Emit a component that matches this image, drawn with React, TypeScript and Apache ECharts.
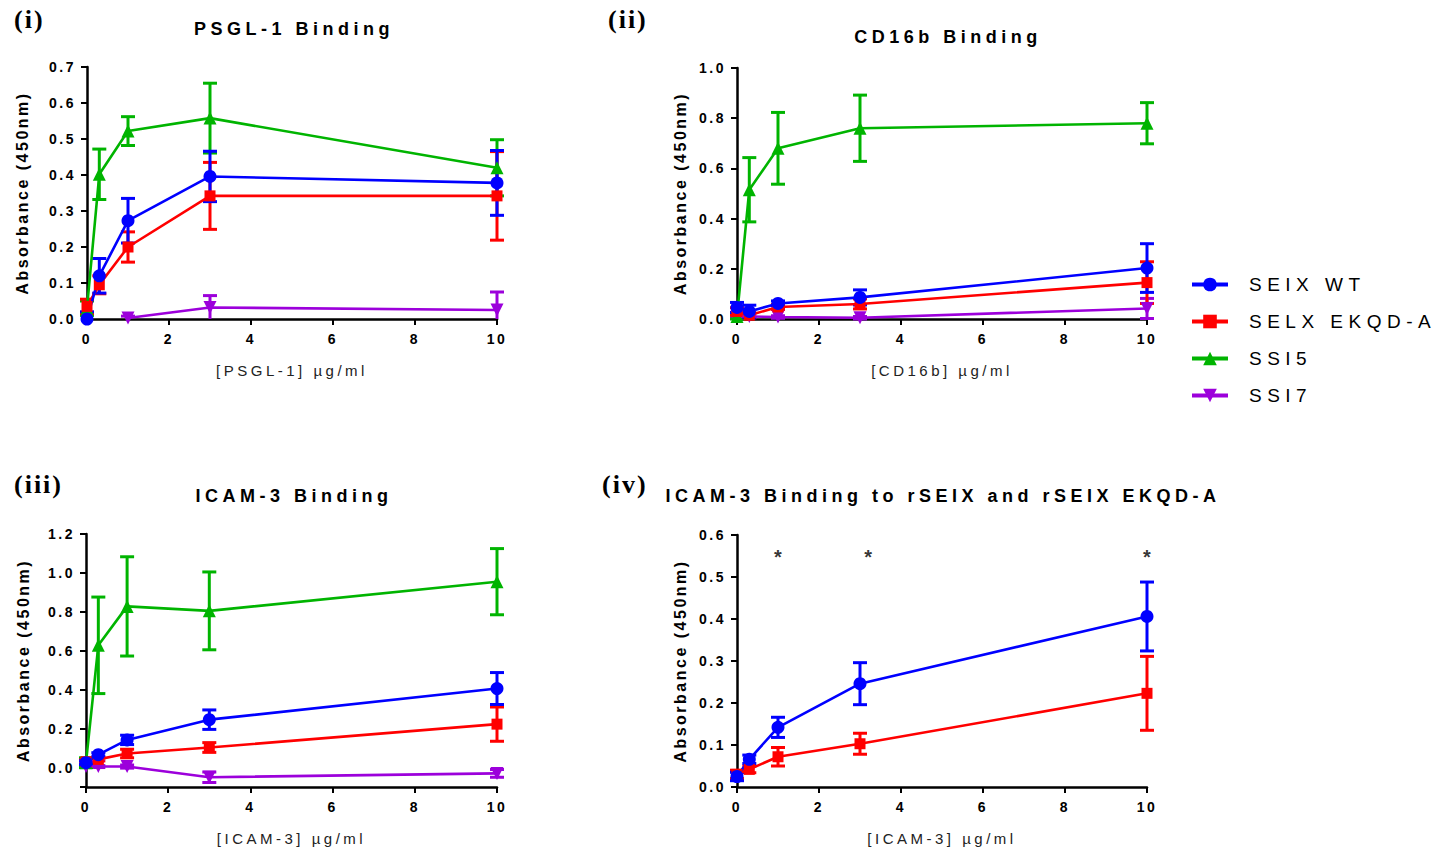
import React, { useEffect, useRef } from 'react';
import * as echarts from 'echarts';

// concentrations (µg/ml)
const conc = [0, 0.3, 1, 3, 10];
const seriesNames = ['SEIX WT', 'SELX EKQD-A', 'SSI5', 'SSI7'];

// (i) PSGL-1 binding
const psglSEIX = [0.0, 0.12, 0.273, 0.396, 0.378];
const psglSEIXErr = [0.02, 0.048, 0.062, 0.07, 0.09];
const psglSELX = [0.035, 0.095, 0.2, 0.342, 0.342];
const psglSELXErr = [0.02, 0.025, 0.042, 0.093, 0.123];
const psglSSI5 = [0.03, 0.402, 0.522, 0.558, 0.42];
const psglSSI5Err = [0.02, 0.07, 0.04, 0.097, 0.078];
const psglSSI7 = [null, null, 0.003, 0.032, 0.025];
const psglSSI7Err = [null, null, 0.005, 0.033, 0.05];

// (ii) CD16b binding
const cd16SEIX = [0.046, 0.03, 0.062, 0.086, 0.203];
const cd16SEIXErr = [0.02, 0.025, 0.01, 0.03, 0.097];
const cd16SELX = [0.03, 0.015, 0.048, 0.06, 0.145];
const cd16SELXErr = [0.015, 0.01, 0.01, 0.02, 0.083];
const cd16SSI5 = [0.01, 0.515, 0.68, 0.76, 0.78];
const cd16SSI5Err = [0.01, 0.128, 0.143, 0.132, 0.082];
const cd16SSI7 = [0.01, 0.01, 0.008, 0.005, 0.042];
const cd16SSI7Err = [0.005, 0.005, 0.005, 0.005, 0.04];

// (iii) ICAM-3 binding (also used in iv)
const icamSEIX = [0.025, 0.066, 0.142, 0.246, 0.406];
const icamSEIXErr = [0.01, 0.01, 0.024, 0.05, 0.082];
const icamSELX = [0.03, 0.042, 0.072, 0.103, 0.223];
const icamSELXErr = [0.01, 0.008, 0.022, 0.025, 0.088];
const icamSSI5 = [0.025, 0.628, 0.828, 0.805, 0.955];
const icamSSI5Err = [0.025, 0.248, 0.255, 0.2, 0.17];
const icamSSI7 = [0.005, 0.005, 0.005, -0.05, -0.03];
const icamSSI7Err = [0.005, 0.005, 0.008, 0.027, 0.02];

// significance markers in (iv)
const sigConc = [1, 3.2, 10];
const sigLevel = [0.547, 0.547, 0.547];

// tick values
const xTicks = [0, 2, 4, 6, 8, 10];
const yTicksIII = [0, 0.2, 0.4, 0.6, 0.8, 1.0, 1.2];
const yTickMarksIII = [-0.1, 0, 0.2, 0.4, 0.6, 0.8, 1.0, 1.2];

const panelTitles = ['PSGL-1 Binding', 'CD16b Binding', 'ICAM-3 Binding', 'ICAM-3 Binding to rSEIX and rSEIX EKQD-A'];
const panelLabels = ['(i)', '(ii)', '(iii)', '(iv)'];
const xNames = ['[PSGL-1] µg/ml', '[CD16b] µg/ml', '[ICAM-3] µg/ml', '[ICAM-3] µg/ml'];
const yName = 'Absorbance (450nm)';

const FONT = "'Liberation Sans', Arial, sans-serif";

const styles: Record<string, any> = {
  'SEIX WT': { color: '#0000ff', symbol: 'circle', size: 13 },
  'SELX EKQD-A': { color: '#ff0000', symbol: 'rect', size: 11 },
  'SSI5': { color: '#00b400', symbol: 'triangle', size: 13 },
  'SSI7': { color: '#9c00db', symbol: 'path://M0,0L10,0L5,9Z', size: 13 },
};

const panelData: any[] = [
  [
    ['SSI7', psglSSI7, psglSSI7Err],
    ['SSI5', psglSSI5, psglSSI5Err],
    ['SELX EKQD-A', psglSELX, psglSELXErr],
    ['SEIX WT', psglSEIX, psglSEIXErr],
  ],
  [
    ['SSI7', cd16SSI7, cd16SSI7Err],
    ['SSI5', cd16SSI5, cd16SSI5Err],
    ['SELX EKQD-A', cd16SELX, cd16SELXErr],
    ['SEIX WT', cd16SEIX, cd16SEIXErr],
  ],
  [
    ['SSI7', icamSSI7, icamSSI7Err],
    ['SSI5', icamSSI5, icamSSI5Err],
    ['SELX EKQD-A', icamSELX, icamSELXErr],
    ['SEIX WT', icamSEIX, icamSEIXErr],
  ],
  [
    ['SELX EKQD-A', icamSELX, icamSELXErr],
    ['SEIX WT', icamSEIX, icamSEIXErr],
  ],
];

const grids = [
  { left: 87, top: 67, width: 410, height: 252 },
  { left: 737, top: 68, width: 410, height: 251 },
  { left: 86, top: 534, width: 411, height: 253 },
  { left: 737, top: 535, width: 410, height: 252 },
];

const yRanges = [
  { min: 0, max: 0.7, interval: 0.1, gap: 57 },
  { min: 0, max: 1.0, interval: 0.2, gap: 49 },
  { min: -0.1, max: 1.2, interval: 0.2, gap: 55 },
  { min: 0, max: 0.6, interval: 0.1, gap: 49 },
];

const titlePos = [
  { x: 294, y: 20 },
  { x: 948, y: 28 },
  { x: 294, y: 487 },
  { x: 943, y: 487 },
];
const labelPos = [
  { x: 14, y: 6 },
  { x: 608, y: 6 },
  { x: 14, y: 471 },
  { x: 602, y: 471 },
];

function buildOption() {
  const axisLine = { onZero: false, lineStyle: { color: '#000', width: 2.5 } };
  const axisTick = { length: 6, lineStyle: { color: '#000', width: 2 } };
  const xAxis = grids.map((_, i) => ({
    type: 'value',
    gridIndex: i,
    min: 0,
    max: 10,
    interval: 2,
    name: xNames[i],
    nameLocation: 'middle',
    nameGap: 44,
    nameTextStyle: { fontSize: 15, fontFamily: FONT, color: '#222' },
    axisLine,
    axisTick: { ...axisTick, customValues: xTicks },
    axisLabel: { fontSize: 14, fontWeight: 'bold', fontFamily: FONT, color: '#000', margin: 13, customValues: xTicks },
    splitLine: { show: false },
  }));
  const yAxis = grids.map((_, i) => {
    const r = yRanges[i];
    const ax: any = {
      type: 'value',
      gridIndex: i,
      min: r.min,
      max: r.max,
      name: yName,
      nameLocation: 'middle',
      nameRotate: 90,
      nameGap: r.gap,
      nameTextStyle: { fontSize: 16, fontWeight: 'bold', fontFamily: FONT, color: '#000' },
      axisLine,
      axisTick: { ...axisTick },
      axisLabel: {
        fontSize: 14,
        fontWeight: 'bold',
        fontFamily: FONT,
        color: '#000',
        margin: 11,
        formatter: (v: number) => v.toFixed(1),
      },
      splitLine: { show: false },
    };
    if (i === 2) {
      ax.axisLabel.customValues = yTicksIII;
      ax.axisTick.customValues = yTickMarksIII;
    } else {
      ax.interval = r.interval;
    }
    return ax;
  });

  const series: any[] = [];
  panelData.forEach((sets: any[], p: number) => {
    const yMin = yRanges[p].min;
    sets.forEach(([name, ys, errs]: any) => {
      const st = styles[name];
      const errData = conc
        .map((x, k) => [x, ys[k], errs[k]])
        .filter((d) => d[1] != null && d[2] != null);
      series.push({
        type: 'custom',
        name: name + ' SEM',
        xAxisIndex: p,
        yAxisIndex: p,
        clip: false,
        encode: { x: 0, y: 1 },
        data: errData,
        z: 2,
        renderItem: (params: any, api: any) => {
          const x = api.value(0);
          const y = api.value(1);
          const e = api.value(2);
          const lowV = y - e;
          const clipped = lowV < yMin;
          const top = api.coord([x, y + e]);
          const bot = api.coord([x, clipped ? yMin : lowV]);
          const hw = 7;
          const style = { stroke: st.color, lineWidth: 3 };
          const children: any[] = [
            { type: 'line', shape: { x1: top[0], y1: top[1], x2: bot[0], y2: bot[1] }, style },
            { type: 'line', shape: { x1: top[0] - hw, y1: top[1], x2: top[0] + hw, y2: top[1] }, style },
          ];
          if (!clipped) {
            children.push({ type: 'line', shape: { x1: bot[0] - hw, y1: bot[1], x2: bot[0] + hw, y2: bot[1] }, style });
          }
          return { type: 'group', children };
        },
      });
      series.push({
        type: 'line',
        name,
        xAxisIndex: p,
        yAxisIndex: p,
        data: conc.map((x, k) => [x, ys[k] == null ? '-' : ys[k]]),
        symbol: st.symbol,
        symbolSize: st.size,
        showAllSymbol: true,
        clip: false,
        color: st.color,
        lineStyle: { color: st.color, width: 2.6 },
        itemStyle: { color: st.color },
        z: 3,
      });
    });
  });

  series.push({
    type: 'scatter',
    name: 'significance',
    xAxisIndex: 3,
    yAxisIndex: 3,
    data: sigConc.map((x, k) => [x, sigLevel[k]]),
    symbolSize: 1,
    itemStyle: { color: 'rgba(0,0,0,0)' },
    label: {
      show: true,
      position: 'inside',
      formatter: '*',
      color: '#000',
      fontSize: 20,
      fontWeight: 'bold',
      fontFamily: FONT,
    },
    z: 5,
  });

  return {
    animation: false,
    backgroundColor: '#fff',
    title: panelTitles.map((t, i) => ({
      text: t,
      left: titlePos[i].x,
      top: titlePos[i].y,
      textAlign: 'center',
      padding: 0,
      textStyle: { fontSize: 18, fontWeight: 'bold', fontFamily: FONT, color: '#000' },
    })),
    legend: {
      data: seriesNames,
      orient: 'vertical',
      left: 1190,
      top: 275,
      padding: 0,
      itemWidth: 36,
      itemHeight: 17,
      itemGap: 18,
      selectedMode: false,
      lineStyle: { width: 4 },
      textStyle: { fontSize: 19, fontFamily: FONT, color: '#000', padding: [0, 0, 0, 16] },
    },
    graphic: panelLabels.map((t, i) => ({
      type: 'text',
      x: labelPos[i].x,
      y: labelPos[i].y,
      style: {
        text: t,
        fontSize: 26,
        fontWeight: 'bold',
        fontFamily: "'Liberation Serif', 'Times New Roman', serif",
        fill: '#000',
      },
    })),
    grid: grids,
    xAxis,
    yAxis,
    series,
  };
}

export default function App() {
  const ref = useRef<HTMLDivElement>(null);
  useEffect(() => {
    if (!ref.current) return;
    const chart = echarts.init(ref.current, null, { renderer: 'svg' });
    chart.setOption(buildOption() as any);
    return () => chart.dispose();
  }, []);
  return (
    <>
      <style>{`
        #chartbox text[style*="14px"] { letter-spacing: 2.5px; }
        #chartbox text[style*="15px"] { letter-spacing: 3.5px; }
        #chartbox text[style*="16px"] { letter-spacing: 2.5px; }
        #chartbox text[style*="18px"] { letter-spacing: 4.5px; }
        #chartbox text[style*="19px"] { letter-spacing: 5.5px; }
        #chartbox text[style*="26px"] { letter-spacing: 2px; }
      `}</style>
      <div
        id="chartbox"
        ref={ref}
        style={{ position: 'fixed', left: 0, top: 0, width: 1436, height: 851, background: '#fff' }}
      />
    </>
  );
}
